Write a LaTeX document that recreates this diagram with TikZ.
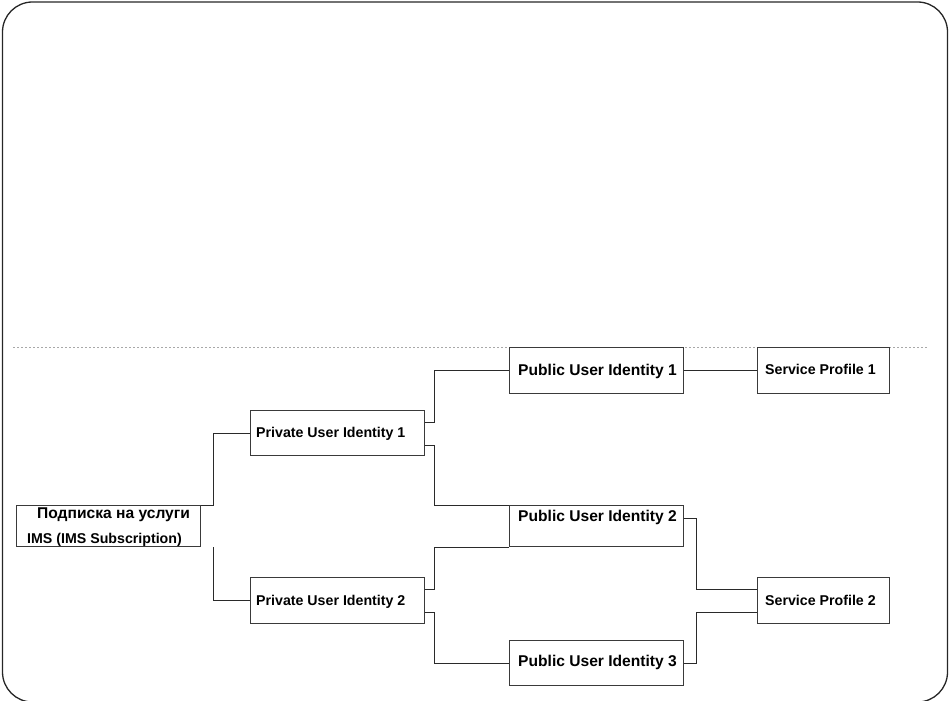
\documentclass[tikz,border=0pt]{standalone}
\usepackage{fontspec}
\setmainfont{Liberation Sans}
\usetikzlibrary{calc}
\definecolor{boxc}{HTML}{3A3A3A}
\definecolor{linec}{HTML}{2A2A2A}
\definecolor{dotc}{HTML}{A8A8A8}
\begin{document}
\begin{tikzpicture}[x=1pt,y=-1pt,
  box/.style={draw=boxc, line width=1pt, rectangle, anchor=north west, inner sep=0pt},
  lbl/.style={font=\bfseries\fontsize{14.2}{16}\selectfont, anchor=base west, inner sep=0pt, text=black},
  big/.style={font=\bfseries\fontsize{15.6}{18}\selectfont, anchor=base west, inner sep=0pt, text=black},
  wire/.style={draw=linec, line width=1pt}]
\useasboundingbox (0,0) rectangle (949,714);
\begin{scope}
  \clip (0,0) rectangle (949,700.5);
  \draw[line width=1.3pt, draw=black!85, rounded corners=30pt] (2.5,2) rectangle (947.5,702);
\end{scope}
\draw[dotc, line width=1pt, dash pattern=on 2pt off 2pt] (13,347) -- (928,347);

% boxes
\node[box, minimum width=184pt, minimum height=41pt] (sub) at (16,505) {};
\node[box, minimum width=174pt, minimum height=45pt] (priv1) at (250,410) {};
\node[box, minimum width=174pt, minimum height=46pt] (priv2) at (250,577) {};
\node[box, minimum width=174pt, minimum height=46pt] (pub1) at (509,347) {};
\node[box, minimum width=174pt, minimum height=41pt] (pub2) at (509,505) {};
\node[box, minimum width=174pt, minimum height=45pt] (pub3) at (509,640) {};
\node[box, minimum width=132pt, minimum height=46pt] (sp1) at (757,347) {};
\node[box, minimum width=132pt, minimum height=46pt] (sp2) at (757,577) {};

% texts
\node[big] (subt1) at (37,518) {Подписка на услуги};
\node[lbl] (subt2) at (27,543) {IMS (IMS Subscription)};
\node[lbl] (priv1t) at (256,437) {Private User Identity 1};
\node[lbl] (priv2t) at (256,605) {Private User Identity 2};
\node[big] (pub1t) at (518,375) {Public User Identity 1};
\node[big] (pub2t) at (518,521) {Public User Identity 2};
\node[big] (pub3t) at (518,666) {Public User Identity 3};
\node[lbl] (sp1t) at (765,374) {Service Profile 1};
\node[lbl] (sp2t) at (765,605) {Service Profile 2};

% connectors
\draw[wire] (priv1.west) -| ($(sub.north east)+(12,0)$) -- (sub.north east);
\draw[wire] (priv2.west) -| ($(sub.south east)+(12,0)$);
\draw[wire] ($(priv1.east)+(0,-11)$) -- ++(9,0) |- (pub1.west);
\draw[wire] ($(priv1.east)+(0,12)$) -- ++(9,0) |- (pub2.north west);
\draw[wire] ($(priv2.east)+(0,-11)$) -- ++(9,0) |- (pub2.south west);
\draw[wire] ($(priv2.east)+(0,12)$) -- ++(9,0) |- (pub3.west);
\draw[wire] (pub1.east) -- (sp1.west);
\draw[wire] ($(pub2.east)+(0,-8)$) -- ++(12,0) |- ($(sp2.west)+(0,-11)$);
\draw[wire] (pub3.east) -- ++(12,0) |- ($(sp2.west)+(0,12)$);
\end{tikzpicture}
\end{document}
